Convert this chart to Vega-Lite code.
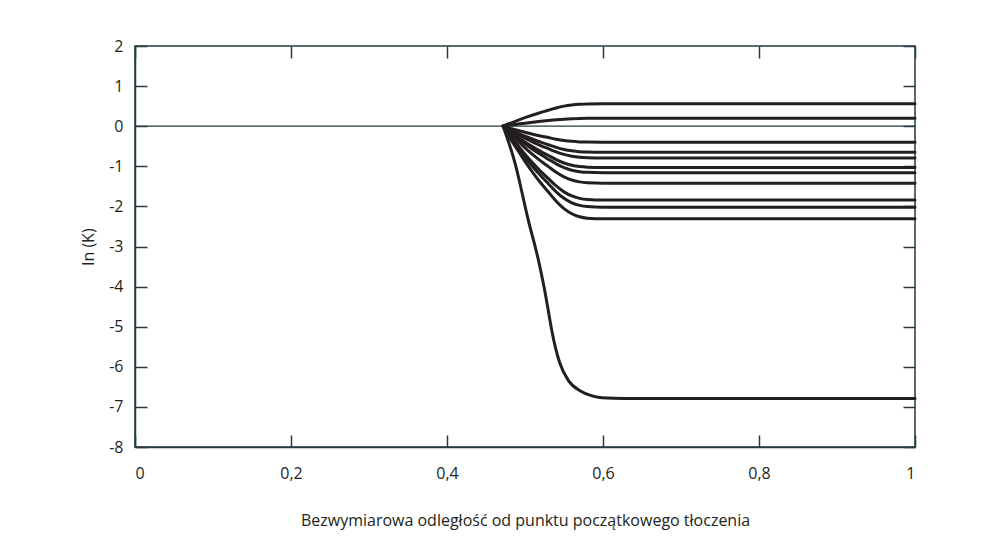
{
  "$schema": "https://vega.github.io/schema/vega-lite/v6.json",
  "width": 780,
  "height": 401,
  "autosize": {"type": "none"},
  "padding": {"left": 135, "top": 46, "right": 73, "bottom": 100},
  "background": "white",
  "config": {
    "view": {"stroke": "#263a40", "strokeWidth": 1.5},
    "font": "Open Sans",
    "axis": {
      "domainColor": "#263a40",
      "domainWidth": 1.5,
      "tickColor": "#263a40",
      "tickWidth": 1.5,
      "grid": false,
      "labelFont": "Open Sans",
      "titleFont": "Open Sans",
      "labelFontSize": 16,
      "titleFontSize": 16,
      "labelColor": "#231f20",
      "titleColor": "#231f20",
      "titleFontWeight": "normal"
    }
  },
  "datasets": {
    "curves": [
      {"c":1,"x":0.472,"y":0},{"c":1,"x":0.48,"y":0.067},{"c":1,"x":0.49,"y":0.14},{"c":1,"x":0.5,"y":0.213},{"c":1,"x":0.51,"y":0.28},{"c":1,"x":0.52,"y":0.342},{"c":1,"x":0.53,"y":0.398},{"c":1,"x":0.54,"y":0.455},{"c":1,"x":0.55,"y":0.5},{"c":1,"x":0.56,"y":0.53},{"c":1,"x":0.57,"y":0.548},{"c":1,"x":0.58,"y":0.556},{"c":1,"x":0.6,"y":0.56},{"c":1,"x":1.0,"y":0.56},
      {"c":2,"x":0.472,"y":0},{"c":2,"x":0.48,"y":0.024},{"c":2,"x":0.49,"y":0.05},{"c":2,"x":0.5,"y":0.076},{"c":2,"x":0.51,"y":0.1},{"c":2,"x":0.52,"y":0.122},{"c":2,"x":0.53,"y":0.142},{"c":2,"x":0.54,"y":0.16},{"c":2,"x":0.55,"y":0.176},{"c":2,"x":0.56,"y":0.188},{"c":2,"x":0.57,"y":0.195},{"c":2,"x":0.58,"y":0.198},{"c":2,"x":0.6,"y":0.2},{"c":2,"x":1.0,"y":0.2},
      {"c":3,"x":0.472,"y":0},{"c":3,"x":0.48,"y":-0.048},{"c":3,"x":0.49,"y":-0.1},{"c":3,"x":0.5,"y":-0.152},{"c":3,"x":0.51,"y":-0.2},{"c":3,"x":0.52,"y":-0.244},{"c":3,"x":0.53,"y":-0.284},{"c":3,"x":0.54,"y":-0.324},{"c":3,"x":0.55,"y":-0.356},{"c":3,"x":0.56,"y":-0.378},{"c":3,"x":0.57,"y":-0.391},{"c":3,"x":0.58,"y":-0.397},{"c":3,"x":0.6,"y":-0.4},{"c":3,"x":1.0,"y":-0.4},
      {"c":4,"x":0.472,"y":0},{"c":4,"x":0.48,"y":-0.078},{"c":4,"x":0.49,"y":-0.163},{"c":4,"x":0.5,"y":-0.247},{"c":4,"x":0.51,"y":-0.325},{"c":4,"x":0.52,"y":-0.397},{"c":4,"x":0.53,"y":-0.462},{"c":4,"x":0.54,"y":-0.527},{"c":4,"x":0.55,"y":-0.579},{"c":4,"x":0.56,"y":-0.614},{"c":4,"x":0.57,"y":-0.635},{"c":4,"x":0.58,"y":-0.645},{"c":4,"x":0.6,"y":-0.65},{"c":4,"x":1.0,"y":-0.65},
      {"c":5,"x":0.472,"y":0},{"c":5,"x":0.48,"y":-0.095},{"c":5,"x":0.49,"y":-0.198},{"c":5,"x":0.5,"y":-0.3},{"c":5,"x":0.51,"y":-0.395},{"c":5,"x":0.52,"y":-0.482},{"c":5,"x":0.53,"y":-0.561},{"c":5,"x":0.54,"y":-0.64},{"c":5,"x":0.55,"y":-0.703},{"c":5,"x":0.56,"y":-0.747},{"c":5,"x":0.57,"y":-0.772},{"c":5,"x":0.58,"y":-0.784},{"c":5,"x":0.6,"y":-0.79},{"c":5,"x":1.0,"y":-0.79},
      {"c":6,"x":0.472,"y":0},{"c":6,"x":0.48,"y":-0.124},{"c":6,"x":0.49,"y":-0.258},{"c":6,"x":0.5,"y":-0.391},{"c":6,"x":0.51,"y":-0.515},{"c":6,"x":0.52,"y":-0.628},{"c":6,"x":0.53,"y":-0.731},{"c":6,"x":0.54,"y":-0.834},{"c":6,"x":0.55,"y":-0.917},{"c":6,"x":0.56,"y":-0.974},{"c":6,"x":0.57,"y":-1.007},{"c":6,"x":0.58,"y":-1.022},{"c":6,"x":0.6,"y":-1.03},{"c":6,"x":1.0,"y":-1.03},
      {"c":7,"x":0.472,"y":0},{"c":7,"x":0.48,"y":-0.139},{"c":7,"x":0.49,"y":-0.29},{"c":7,"x":0.5,"y":-0.441},{"c":7,"x":0.51,"y":-0.58},{"c":7,"x":0.52,"y":-0.708},{"c":7,"x":0.53,"y":-0.824},{"c":7,"x":0.54,"y":-0.94},{"c":7,"x":0.55,"y":-1.033},{"c":7,"x":0.56,"y":-1.097},{"c":7,"x":0.57,"y":-1.134},{"c":7,"x":0.58,"y":-1.151},{"c":7,"x":0.6,"y":-1.16},{"c":7,"x":1.0,"y":-1.16},
      {"c":8,"x":0.472,"y":0},{"c":8,"x":0.48,"y":-0.17},{"c":8,"x":0.49,"y":-0.355},{"c":8,"x":0.5,"y":-0.54},{"c":8,"x":0.51,"y":-0.71},{"c":8,"x":0.52,"y":-0.866},{"c":8,"x":0.53,"y":-1.008},{"c":8,"x":0.54,"y":-1.15},{"c":8,"x":0.55,"y":-1.264},{"c":8,"x":0.56,"y":-1.343},{"c":8,"x":0.57,"y":-1.388},{"c":8,"x":0.58,"y":-1.409},{"c":8,"x":0.6,"y":-1.42},{"c":8,"x":1.0,"y":-1.42},
      {"c":9,"x":0.472,"y":0},{"c":9,"x":0.48,"y":-0.221},{"c":9,"x":0.49,"y":-0.46},{"c":9,"x":0.5,"y":-0.699},{"c":9,"x":0.51,"y":-0.92},{"c":9,"x":0.52,"y":-1.122},{"c":9,"x":0.53,"y":-1.306},{"c":9,"x":0.54,"y":-1.49},{"c":9,"x":0.55,"y":-1.638},{"c":9,"x":0.56,"y":-1.74},{"c":9,"x":0.57,"y":-1.799},{"c":9,"x":0.58,"y":-1.826},{"c":9,"x":0.6,"y":-1.84},{"c":9,"x":1.0,"y":-1.84},
      {"c":10,"x":0.472,"y":0},{"c":10,"x":0.48,"y":-0.242},{"c":10,"x":0.49,"y":-0.505},{"c":10,"x":0.5,"y":-0.768},{"c":10,"x":0.51,"y":-1.01},{"c":10,"x":0.52,"y":-1.232},{"c":10,"x":0.53,"y":-1.434},{"c":10,"x":0.54,"y":-1.636},{"c":10,"x":0.55,"y":-1.798},{"c":10,"x":0.56,"y":-1.91},{"c":10,"x":0.57,"y":-1.975},{"c":10,"x":0.58,"y":-2.005},{"c":10,"x":0.6,"y":-2.02},{"c":10,"x":1.0,"y":-2.02},
      {"c":11,"x":0.472,"y":0},{"c":11,"x":0.48,"y":-0.277},{"c":11,"x":0.49,"y":-0.578},{"c":11,"x":0.5,"y":-0.878},{"c":11,"x":0.51,"y":-1.155},{"c":11,"x":0.52,"y":-1.409},{"c":11,"x":0.53,"y":-1.64},{"c":11,"x":0.54,"y":-1.871},{"c":11,"x":0.55,"y":-2.056},{"c":11,"x":0.56,"y":-2.184},{"c":11,"x":0.57,"y":-2.258},{"c":11,"x":0.58,"y":-2.293},{"c":11,"x":0.6,"y":-2.31},{"c":11,"x":1.0,"y":-2.31},
      {"c":12,"x":0.472,"y":0},{"c":12,"x":0.4872,"y":-0.92},{"c":12,"x":0.5042,"y":-2.34},{"c":12,"x":0.5171,"y":-3.33},{"c":12,"x":0.5256,"y":-4.13},{"c":12,"x":0.5299,"y":-4.6},{"c":12,"x":0.5342,"y":-5.08},{"c":12,"x":0.5445,"y":-5.9},{"c":12,"x":0.556,"y":-6.35},{"c":12,"x":0.5705,"y":-6.6},{"c":12,"x":0.585,"y":-6.72},{"c":12,"x":0.5983,"y":-6.77},{"c":12,"x":0.6282,"y":-6.79},{"c":12,"x":1.0,"y":-6.79}
    ]
  },
  "layer": [
    {
      "data": {"values": [{"z": 0}]},
      "mark": {"type": "rule", "color": "#263a40", "strokeWidth": 1.2},
      "encoding": {
        "y": {"field": "z", "type": "quantitative", "scale": {"domain": [-8, 2], "nice": false, "zero": false},
          "axis": {"orient": "right", "values": [-8,-7,-6,-5,-4,-3,-2,-1,0,1,2], "labels": false, "title": null, "tickSize": -12, "domain": false}}
      }
    },
    {
      "data": {"name": "curves"},
      "mark": {"type": "line", "color": "#231f20", "strokeWidth": 3, "interpolate": "monotone", "strokeCap": "round"},
      "encoding": {
        "x": {"field": "x", "type": "quantitative", "scale": {"domain": [0, 1], "nice": false},
          "axis": {"values": [0, 0.2, 0.4, 0.6, 0.8, 1], "title": "Bezwymiarowa odległość od punktu początkowego tłoczenia", "tickSize": -12, "labelPadding": 30, "titlePadding": 31,
            "labelExpr": "replace('' + datum.value, '.', ',')"}},
        "y": {"field": "y", "type": "quantitative", "scale": {"domain": [-8, 2], "nice": false, "zero": false},
          "axis": {"values": [-8,-7,-6,-5,-4,-3,-2,-1,0,1,2], "title": "ln (K)", "tickSize": -12, "labelPadding": 24, "titlePadding": 12,
            "labelExpr": "datum.value < 0 ? '-' + abs(datum.value) : '' + datum.value"}},
        "detail": {"field": "c", "type": "nominal"}
      }
    },
    {
      "data": {"values": [{"z": 0}]},
      "mark": {"type": "rule", "opacity": 0},
      "encoding": {
        "x": {"field": "z", "type": "quantitative", "scale": {"domain": [0, 1], "nice": false},
          "axis": {"orient": "top", "values": [0, 0.2, 0.4, 0.6, 0.8, 1], "labels": false, "title": null, "tickSize": -12, "domain": false}}
      }
    }
  ],
  "resolve": {"axis": {"x": "independent", "y": "independent"}}
}
